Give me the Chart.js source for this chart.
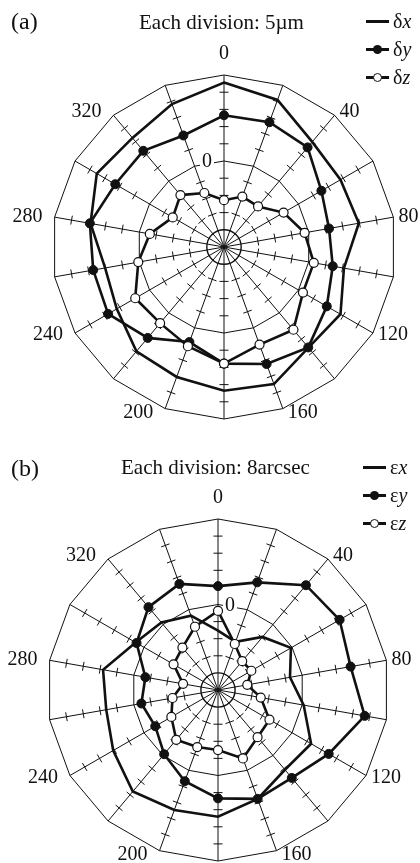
<!DOCTYPE html>
<html>
<head>
<meta charset="utf-8">
<script src="https://cdn.jsdelivr.net/npm/chart.js@4.4.1/dist/chart.umd.min.js"></script>
<style>
  body { margin: 0; background: #fff; font-family: "Liberation Serif", "Times New Roman", serif; color: #111; }
  .panel { position: relative; width: 420px; }
  .panel canvas { position: absolute; left: 0; top: 0; }
  .txt { position: absolute; font-size: 21px; line-height: 24px; white-space: nowrap; }
  .tag { position: absolute; font-size: 24px; line-height: 26px; white-space: nowrap; }
  .leg { position: absolute; height: 24px; display: flex; align-items: center; font-size: 20px; }
  .sw { position: relative; width: 23px; height: 3px; background: #111; margin-right: 4px; }
  .mk { position: absolute; left: 50%; top: 50%; width: 9px; height: 9px; margin: -4.5px 0 0 -4.5px;
        border-radius: 50%; box-sizing: border-box; }
  .mk.fill { background: #111; }
  .mk.open { background: #fff; border: 1.3px solid #111; }
</style>
</head>
<body>
<div class="panel" style="height:430px">
  <canvas id="chartA" width="420" height="430"></canvas>
  <div class="tag" style="left:11px; top:8px">(a)</div>
  <div class="txt" style="left:139px; top:10px">Each division: 5µm</div>
  <div class="leg" style="left:366px; top:9px"><span class="sw"></span>δ<i>x</i></div>
  <div class="leg" style="left:366px; top:37px"><span class="sw"><span class="mk fill"></span></span>δ<i>y</i></div>
  <div class="leg" style="left:366px; top:65px"><span class="sw"><span class="mk open"></span></span>δ<i>z</i></div>
</div>
<div class="panel" style="height:433px">
  <canvas id="chartB" width="420" height="433"></canvas>
  <div class="tag" style="left:11px; top:25px">(b)</div>
  <div class="txt" style="left:121px; top:25px">Each division: 8arcsec</div>
  <div class="leg" style="left:363px; top:25px"><span class="sw"></span>ε<i>x</i></div>
  <div class="leg" style="left:363px; top:53px"><span class="sw"><span class="mk fill"></span></span>ε<i>y</i></div>
  <div class="leg" style="left:363px; top:81px"><span class="sw"><span class="mk open"></span></span>ε<i>z</i></div>
</div>
<script>
// angular positions, degrees (every 20, labelled every 40)
const angleLabels = ['0', '', '40', '', '80', '', '120', '', '160', '', '200', '', '240', '', '280', '', '320', ''];

// (a) translational errors, µm
const deltaX = [22.8, 20.5, 14.9, 14.1, 14.8, 10.4, 14.1, 13.2, 17.4, 16.8, 15.2, 14.6, 11.0, 10.1, 14.4, 17.7, 16.4, 19.2];
const deltaY = [13.3, 13.6, 12.8, 7.7, 6.0, 7.1, 9.5, 13.1, 11.2, 8.9, 4.4, 9.5, 13.9, 13.6, 14.6, 11.5, 11.5, 9.5];
const deltaZ = [-11.4, -9.4, -9.6, -5.0, -1.2, 1.5, 1.5, 6.4, 5.2, 8.9, 5.7, 3.9, 4.8, 0.3, -3.1, -7.8, -5.3, -8.3];

// (b) angular errors, arcsec
const epsX = [-12.2, -16.0, -7.6, -0.6, -5.8, 0.7, 10.3, 8.7, 14.2, 19.3, 19.7, 22.0, 16.6, 13.1, 14.6, 4.5, 1.2, -3.0];
const epsY = [8.6, 13.6, 24.0, 25.7, 23.0, 29.7, 19.8, 13.7, 14.2, 10.7, 5.4, -0.8, -6.1, -3.6, -5.5, 4.0, 10.6, 12.8];
const epsZ = [-3.0, -17.1, -22.4, -22.0, -26.1, -19.7, -12.2, -11.2, -5.9, -11.9, -11.6, -9.6, -14.8, -18.4, -23.4, -16.0, -14.1, -8.5];

const INK = '#111';

// inner circle, division marks on spokes, angle labels and the "0" ring label
const polarDecor = {
  id: 'polarDecor',
  beforeDatasetsDraw(chart, args, opts) {
    const s = chart.scales.r;
    const ctx = chart.ctx;
    const n = chart.data.labels.length;
    ctx.save();
    ctx.strokeStyle = INK;

    ctx.lineWidth = 1.4;
    ctx.beginPath();
    ctx.arc(s.xCenter, s.yCenter, s.getDistanceFromCenterForValue(opts.innerValue), 0, Math.PI * 2);
    ctx.stroke();

    ctx.lineWidth = 1;
    for (let i = 0; i < n; i++) {
      for (const v of opts.marks) {
        const p = s.getPointPositionForValue(i, v);
        const dx = p.x - s.xCenter, dy = p.y - s.yCenter;
        const len = Math.hypot(dx, dy);
        const nx = -dy / len * 4.5, ny = dx / len * 4.5;
        ctx.beginPath();
        ctx.moveTo(p.x - nx, p.y - ny);
        ctx.lineTo(p.x + nx, p.y + ny);
        ctx.stroke();
      }
    }

    ctx.font = '20px "Liberation Serif", serif';
    ctx.fillStyle = INK;
    ctx.textBaseline = 'middle';
    for (let i = 0; i < n; i++) {
      const lab = chart.data.labels[i];
      if (!lab) continue;
      const p = s.getPointPositionForValue(i, s.max);
      const deg = i * 360 / n;
      let x = p.x, y = p.y - 4 * Math.cos(deg * Math.PI / 180);
      if (deg === 0) { ctx.textAlign = 'center'; y = p.y - 21; }
      else if (deg < 180) { ctx.textAlign = 'left'; x += 5; }
      else { ctx.textAlign = 'right'; x -= 12; }
      ctx.fillText(lab, x, y);
    }

    // zero ring label with a white backing
    const z = s.getPointPositionForValue(0, 0);
    const zx = z.x + opts.zeroDx;
    ctx.fillStyle = '#fff';
    ctx.fillRect(zx - 7, z.y - 11, 14, 22);
    ctx.fillStyle = INK;
    ctx.textAlign = 'center';
    ctx.fillText('0', zx, z.y + 1);
    ctx.restore();
  }
};

function makePolar(id, series, range, step, pad, zeroDx) {
  const marks = [];
  for (let k = -3; k <= 4; k++) if (k !== 0) marks.push(k * step);
  const lineOpts = { borderColor: INK, borderWidth: 2.6, fill: false, tension: 0 };
  return new Chart(document.getElementById(id), {
    type: 'radar',
    data: {
      labels: angleLabels,
      datasets: [
        { ...lineOpts, data: series[0], pointRadius: 0, order: 3 },
        { ...lineOpts, data: series[1], pointRadius: 4.5, pointBackgroundColor: INK, pointBorderColor: INK, pointBorderWidth: 1, order: 2 },
        { ...lineOpts, data: series[2], pointRadius: 4.5, pointBackgroundColor: '#fff', pointBorderColor: INK, pointBorderWidth: 1.2, order: 1 }
      ]
    },
    options: {
      responsive: false,
      animation: false,
      layout: { padding: pad },
      plugins: {
        legend: { display: false },
        tooltip: { enabled: false },
        polarDecor: { innerValue: -4 * step, marks: marks, zeroDx: zeroDx }
      },
      scales: {
        r: {
          min: -range,
          max: range,
          ticks: { display: false, stepSize: step },
          pointLabels: { display: false },
          grid: {
            lineWidth: 1,
            color: (ctx) => (ctx.tick && (ctx.tick.value === 0 || ctx.tick.value === range)) ? INK : 'rgba(0,0,0,0)'
          },
          angleLines: { color: INK, lineWidth: 1 }
        }
      }
    },
    plugins: [polarDecor]
  });
}

makePolar('chartA', [deltaX, deltaY, deltaZ], 25, 5, { left: 52, right: 24, top: 75, bottom: 11 }, -17);
makePolar('chartB', [epsX, epsY, epsZ], 40, 8, { left: 47, right: 31, top: 89, bottom: 2 }, 12);
</script>
</body>
</html>
